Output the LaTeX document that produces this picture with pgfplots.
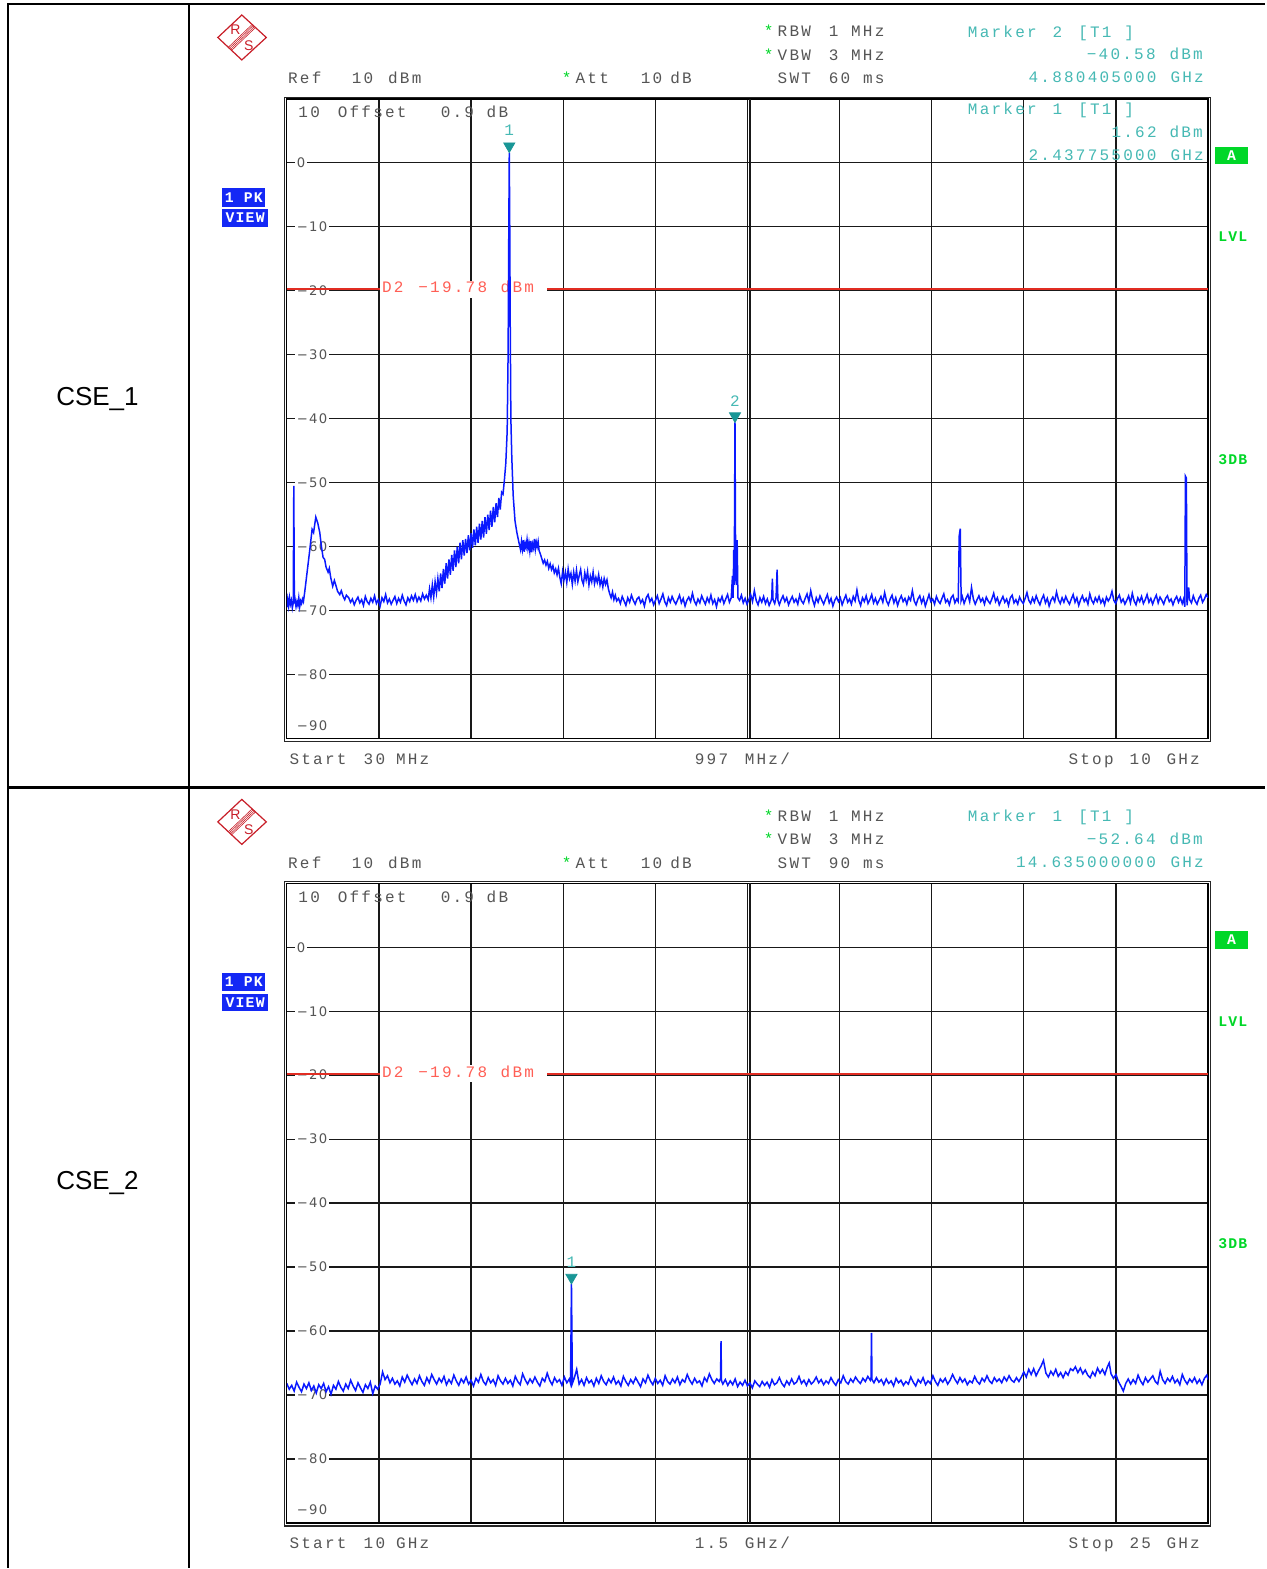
\documentclass[border=0pt]{standalone}
\usepackage{fontspec}
\usepackage{pgfplots}
\pgfplotsset{compat=1.18}
\setmainfont{Liberation Sans}
\newfontfamily\rsm[LetterSpace=14]{Liberation Mono}
\newfontfamily\rsmb[LetterSpace=8]{Liberation Mono}
\newfontfamily\tickfont[LetterSpace=10]{DejaVu Sans}
\definecolor{rsgray}{RGB}{85,85,85}
\definecolor{rsteal}{RGB}{70,185,180}
\definecolor{rsmark}{RGB}{25,150,150}
\definecolor{rsblue}{RGB}{10,25,255}
\definecolor{rsboxblue}{RGB}{20,40,245}
\definecolor{rsred}{RGB}{225,45,35}
\definecolor{rsredtxt}{RGB}{255,95,85}
\definecolor{rsgreen}{RGB}{0,215,40}
\definecolor{rslogo}{RGB}{200,30,40}
\tikzset{
  rs/.style={font=\rsm\fontsize{8}{9}\selectfont, text=rsgray, inner sep=0pt, anchor=base west},
  rt/.style={rs, text=rsteal},
  rr/.style={rs, text=rsredtxt},
  tl/.style={font=\tickfont\fontsize{6.6}{7}\selectfont, text=rsgray, inner xsep=1pt, inner ysep=0.6pt, fill=white, anchor=west},
  bx/.style={font=\rsmb\bfseries\fontsize{7.4}{8}\selectfont, text=white, inner sep=0pt},
}
\newcommand\ylabs[1]{%
  \node[tl] at (axis cs:#1,0) {0};
  \node[tl] at (axis cs:#1,-10) {−10};
  \node[tl] at (axis cs:#1,-20) {−20};
  \node[tl] at (axis cs:#1,-30) {−30};
  \node[tl] at (axis cs:#1,-40) {−40};
  \node[tl] at (axis cs:#1,-50) {−50};
  \node[tl] at (axis cs:#1,-60) {−60};
  \node[tl] at (axis cs:#1,-70) {−70};
  \node[tl] at (axis cs:#1,-80) {−80};
}
\newcommand\rscommon{%
  \draw[rslogo, line width=0.6pt] (218,37.5) -- (242,15) -- (266.5,37.5) -- (242,60) -- cycle;
  \foreach \d in {-1.6,-0.55,0.55,1.6} {\draw[rslogo, line width=0.3pt] (254+\d,26+\d) -- (230+\d,49+\d);}
  \node[text=rslogo, inner sep=0pt, font=\fontsize{7}{8}\selectfont] at (235.5,30) {R};
  \node[text=rslogo, inner sep=0pt, font=\fontsize{7}{8}\selectfont] at (249,45.5) {S};
  \node[fill=rsboxblue, minimum width=21.7pt, minimum height=9.2pt, inner sep=0pt] at (244,197.5) {};
  \node[bx] at (244,197.5) {1 PK};
  \node[fill=rsboxblue, minimum width=23pt, minimum height=8.7pt, inner sep=0pt] at (245.3,218) {};
  \node[bx] at (245.3,218) {VIEW};
  \node[rs] at (288,84) {Ref};
  \node[rs] at (351.8,84) {10};
  \node[rs] at (388,84) {dBm};
  \node[rs, text=rsgreen] at (561.9,84) {*};
  \node[rs] at (575.7,84) {Att};
  \node[rs] at (641,84) {10};
  \node[rs] at (670.4,84) {dB};
  \node[rs, text=rsgreen] at (764,37) {*};
  \node[rs] at (777.9,37) {RBW};
  \node[rs] at (829,37) {1};
  \node[rs] at (851.4,37) {MHz};
  \node[rs, text=rsgreen] at (764,60.5) {*};
  \node[rs] at (777.9,60.5) {VBW};
  \node[rs] at (829,60.5) {3};
  \node[rs] at (851.4,60.5) {MHz};
  \node[rs] at (777.9,84) {SWT};
  \node[rs] at (863.3,84) {ms};
  \node[rs] at (298.3,118) {10};
  \node[rs] at (337.7,118) {Offset};
  \node[rs] at (440.7,118) {0.9};
  \node[rs] at (486.7,118) {dB};
  \node[tl, fill=none] at (294.7,726) {−90};
  \draw[black!85, line width=0.7pt] (285,97.3) rectangle (1211.7,742.3);
  \node[fill=rsgreen, minimum width=16.6pt, minimum height=8.8pt, inner sep=0pt] at (1232.6,155.5) {};
  \node[bx] at (1232.6,155.5) {A};
  \node[bx, text=rsgreen] at (1233.8,237) {LVL};
  \node[bx, text=rsgreen] at (1233.8,459.5) {3DB};
  \node[rs] at (289.4,765) {Start};
  \node[rs] at (1069,765) {Stop};
}
\begin{document}
\begin{tikzpicture}
\begin{scope}[x=0.5pt,y=-0.5pt]
\useasboundingbox (0,0) rectangle (1266,1569);
\fill[white] (0,0) rectangle (1266,1569);
\end{scope}

% ---------------- panel 1 ----------------
\begin{axis}[
  at={(143.5pt,-369.5pt)}, anchor=south west,
  scale only axis, width=461pt, height=320pt,
  xmin=0.03, xmax=10, ymin=-90, ymax=10,
  xtick={0.03,1.027,2.024,3.021,4.018,5.015,6.012,7.009,8.006,9.003,10},
  ytick={-90,-80,-70,-60,-50,-40,-30,-20,-10,0,10},
  xticklabels={}, yticklabels={}, tick style={draw=none},
  grid=major, major grid style={black!90, line width=0.6pt},
  axis line style={black, line width=0.7pt},
]
\draw[black!90, line width=0.6pt] ([xshift=1.3pt]axis cs:5.015,-90) -- ([xshift=1.3pt]axis cs:5.015,10);
\ylabs{0.1133}
\draw[rsred, line width=0.9pt] (axis cs:0.03,-19.78) -- (axis cs:10,-19.78);
\fill[white] (axis cs:1.0357,-18.44) rectangle (axis cs:2.8415,-21.09);
\node[rr] at (axis cs:1.0573,-20.31) {D2};
\node[rr] at (axis cs:1.4498,-20.31) {−19.78};
\node[rr] at (axis cs:2.3408,-20.31) {dBm};
\addplot[rsblue, line width=0.75pt, mark=none] coordinates {
(0.030,-69.5) (0.040,-68.2) (0.050,-69.3) (0.060,-68.0) (0.070,-69.0) (0.080,-68.4) (0.090,-69.6) (0.100,-68.8) (0.106,-50.5) (0.112,-68.9) (0.120,-68.3) (0.130,-69.4) (0.140,-68.6) (0.150,-69.2) (0.160,-68.0) (0.170,-69.4) (0.180,-68.5) (0.190,-68.9) (0.200,-68.2) (0.210,-68.6) (0.225,-67.0) (0.250,-64.0) (0.279,-60.5) (0.304,-57.3) (0.320,-57.8) (0.344,-55.4) (0.365,-56.3) (0.387,-57.8) (0.405,-60.0) (0.423,-61.7) (0.440,-62.0) (0.455,-63.2) (0.477,-64.0) (0.490,-63.4) (0.505,-64.8) (0.527,-66.2) (0.545,-65.3) (0.560,-66.0) (0.580,-67.0) (0.603,-67.5) (0.620,-66.9) (0.640,-67.8) (0.657,-68.3) (0.675,-67.6)
(0.70,-68.0) (0.72,-68.7) (0.74,-68.2) (0.76,-69.1) (0.78,-68.4) (0.80,-67.9) (0.82,-68.8) (0.84,-68.3) (0.86,-69.2) (0.88,-67.8) (0.90,-68.6) (0.92,-69.0) (0.94,-68.1) (0.96,-68.7) (0.98,-67.7) (1.00,-68.9) (1.02,-68.3) (1.04,-69.3) (1.06,-68.0) (1.08,-68.6) (1.10,-67.5) (1.12,-68.8) (1.14,-68.2) (1.16,-69.0) (1.18,-68.4) (1.20,-67.8) (1.22,-68.9) (1.24,-68.1) (1.26,-68.7) (1.28,-67.6) (1.30,-68.5) (1.32,-69.1) (1.34,-68.0) (1.36,-68.6) (1.38,-67.7) (1.40,-68.4) (1.42,-67.5) (1.44,-68.6) (1.46,-67.9) (1.48,-68.5) (1.50,-67.4) (1.52,-68.2) (1.54,-67.6)
(1.56,-68.3) (1.575,-66.6) (1.59,-68.0) (1.605,-66.0) (1.62,-67.9) (1.635,-65.5) (1.65,-67.2) (1.665,-65.0) (1.68,-67.0) (1.695,-64.2) (1.71,-66.5) (1.725,-63.5) (1.74,-65.8) (1.755,-62.6) (1.77,-65.0) (1.785,-62.0) (1.80,-64.4) (1.815,-61.3) (1.83,-63.8) (1.845,-60.6) (1.86,-63.2) (1.875,-60.0) (1.89,-62.6) (1.905,-59.4) (1.92,-62.0) (1.935,-59.0) (1.95,-61.4) (1.965,-58.8) (1.98,-61.0) (1.995,-58.2) (2.01,-60.6) (2.025,-57.9) (2.04,-60.2) (2.055,-57.3) (2.07,-59.8) (2.085,-56.9) (2.10,-59.4) (2.115,-56.4) (2.13,-58.9) (2.145,-56.0) (2.16,-58.6) (2.175,-55.4) (2.19,-58.0) (2.205,-55.0) (2.22,-57.4) (2.235,-54.4) (2.25,-56.9) (2.265,-53.8) (2.28,-56.2) (2.295,-53.2) (2.31,-55.4) (2.325,-52.4) (2.34,-54.2) (2.355,-51.5) (2.37,-51.8) (2.385,-49.6) (2.40,-47.0)
(2.415,-42.0) (2.425,-30.0) (2.432,-12.0) (2.4378,1.62) (2.443,-10.0) (2.448,-25.0) (2.455,-40.0) (2.465,-46.0) (2.48,-52.0) (2.50,-56.0) (2.52,-57.8) (2.54,-59.2)
(2.56,-60.5) (2.57,-59.2) (2.58,-60.4) (2.59,-59.0) (2.60,-60.8) (2.61,-59.5) (2.62,-60.1) (2.63,-58.9) (2.64,-60.3) (2.65,-59.4) (2.66,-60.7) (2.67,-59.1) (2.68,-60.9) (2.69,-59.6) (2.70,-60.2) (2.71,-58.8) (2.72,-60.4) (2.73,-59.3) (2.74,-60.0) (2.75,-59.2) (2.76,-60.6)
(2.775,-61.2) (2.79,-61.9) (2.805,-62.6) (2.82,-62.1) (2.835,-62.9) (2.85,-62.3) (2.865,-63.4) (2.88,-62.7) (2.895,-63.6) (2.91,-63.0) (2.925,-64.1) (2.94,-63.5) (2.955,-64.4) (2.97,-63.4) (2.985,-64.8) (3.00,-65.8) (3.015,-63.9) (3.03,-65.2) (3.045,-64.0) (3.06,-65.6) (3.075,-63.5) (3.09,-65.0) (3.105,-64.2) (3.12,-65.9) (3.135,-64.0) (3.15,-65.4) (3.165,-63.7) (3.18,-65.5) (3.195,-64.5) (3.21,-63.6) (3.225,-65.3) (3.24,-65.9) (3.255,-64.1) (3.27,-65.2) (3.285,-63.9) (3.30,-66.0) (3.315,-64.6) (3.33,-65.5) (3.345,-64.0) (3.36,-65.8) (3.375,-64.8) (3.39,-65.6) (3.405,-64.4) (3.42,-66.0) (3.435,-65.1) (3.45,-66.3) (3.465,-65.0) (3.48,-65.9) (3.495,-65.2) (3.51,-66.6) (3.525,-67.4) (3.54,-68.0) (3.555,-67.1) (3.57,-68.3) (3.585,-67.6) (3.60,-68.5)
(3.62,-68.1) (3.64,-68.9) (3.66,-67.8) (3.68,-68.5) (3.70,-69.2) (3.72,-68.0) (3.74,-68.7) (3.76,-67.6) (3.78,-68.4) (3.80,-69.0) (3.82,-68.2) (3.84,-67.9) (3.86,-68.8) (3.88,-68.3) (3.90,-69.3) (3.92,-68.0) (3.94,-67.5) (3.96,-68.6) (3.98,-68.1) (4.00,-69.1) (4.02,-68.4) (4.04,-67.7) (4.06,-68.9) (4.08,-68.2) (4.10,-67.4) (4.12,-68.6) (4.14,-69.2) (4.16,-68.0) (4.18,-68.7) (4.20,-67.8) (4.22,-68.5) (4.24,-69.0) (4.26,-68.3) (4.28,-67.6) (4.30,-68.8) (4.32,-68.1) (4.34,-69.3) (4.36,-68.4) (4.38,-67.9) (4.40,-68.6) (4.42,-67.3) (4.44,-68.5) (4.46,-69.1) (4.48,-68.2) (4.50,-68.8) (4.52,-67.7) (4.54,-68.4) (4.56,-69.0) (4.58,-68.0) (4.60,-68.7) (4.62,-67.6) (4.64,-68.9) (4.66,-68.3) (4.68,-69.4) (4.70,-68.1) (4.72,-68.6) (4.74,-67.8) (4.76,-68.9) (4.78,-68.2) (4.80,-67.5) (4.82,-68.7) (4.84,-68.0)
(4.853,-64.6) (4.860,-68.0) (4.867,-60.5) (4.872,-66.0) (4.8804,-40.58) (4.888,-65.0) (4.896,-66.0) (4.904,-59.0) (4.912,-68.0)
(4.93,-68.4) (4.95,-67.6) (4.97,-68.8) (4.99,-68.1) (5.01,-69.0) (5.03,-68.3) (5.05,-67.5) (5.07,-68.6) (5.09,-66.9) (5.11,-68.4) (5.13,-69.1) (5.15,-68.0) (5.17,-68.7) (5.19,-67.8) (5.21,-68.9) (5.23,-68.2) (5.25,-69.2) (5.27,-68.5) (5.278,-68.0) (5.285,-65.0) (5.292,-68.3) (5.31,-68.9) (5.325,-68.0) (5.336,-63.6) (5.345,-68.4) (5.36,-69.1) (5.38,-68.3) (5.40,-67.7)
(5.42,-68.6) (5.44,-68.0) (5.46,-69.1) (5.48,-68.4) (5.50,-67.8) (5.52,-68.7) (5.54,-68.2) (5.56,-69.0) (5.58,-67.6) (5.60,-68.5) (5.62,-68.9) (5.64,-68.1) (5.66,-67.4) (5.68,-68.6) (5.70,-66.9) (5.72,-68.3) (5.74,-69.2) (5.76,-68.0) (5.78,-68.7) (5.80,-67.7) (5.82,-68.4) (5.84,-69.0) (5.86,-68.2) (5.88,-67.5) (5.90,-68.8) (5.92,-68.1) (5.94,-69.3) (5.96,-68.4) (5.98,-67.9) (6.00,-68.6) (6.02,-68.0) (6.04,-69.1) (6.06,-68.3) (6.08,-67.6) (6.10,-68.7) (6.12,-68.2) (6.14,-69.0) (6.16,-67.8) (6.18,-68.5) (6.20,-66.8) (6.22,-68.4) (6.24,-69.2) (6.26,-68.0) (6.28,-68.6) (6.30,-67.7) (6.32,-68.9) (6.34,-68.3) (6.36,-67.5) (6.38,-68.8) (6.40,-68.1) (6.42,-69.0) (6.44,-68.4) (6.46,-67.8) (6.48,-68.7) (6.50,-67.2) (6.52,-68.5) (6.54,-69.1) (6.56,-68.2) (6.58,-67.6) (6.60,-68.8) (6.62,-68.0) (6.64,-69.2) (6.66,-68.3) (6.68,-67.7) (6.70,-68.6) (6.72,-68.1) (6.74,-69.0) (6.76,-67.9) (6.78,-68.4) (6.80,-66.9) (6.82,-68.5) (6.84,-69.1) (6.86,-68.2) (6.88,-67.7) (6.90,-68.8) (6.92,-68.0) (6.94,-69.3) (6.96,-68.4) (6.98,-67.5) (7.00,-68.6) (7.02,-68.2) (7.04,-69.0) (7.06,-67.8) (7.08,-68.5) (7.10,-68.9) (7.12,-68.1) (7.14,-67.4) (7.16,-68.7) (7.18,-68.3) (7.20,-69.1) (7.22,-68.0) (7.24,-67.6) (7.26,-68.8) (7.28,-68.2)
(7.296,-68.6) (7.307,-58.3) (7.318,-57.2) (7.328,-68.4) (7.34,-67.8) (7.36,-68.9) (7.38,-68.1) (7.40,-67.5) (7.42,-68.6) (7.44,-66.4) (7.46,-68.2) (7.48,-69.0) (7.50,-68.3)
(7.52,-67.7) (7.54,-68.6) (7.56,-68.1) (7.58,-69.0) (7.60,-67.9) (7.62,-68.5) (7.64,-68.9) (7.66,-68.2) (7.68,-67.3) (7.70,-68.6) (7.72,-68.0) (7.74,-69.1) (7.76,-68.4) (7.78,-67.8) (7.80,-68.7) (7.82,-68.2) (7.84,-69.2) (7.86,-68.0) (7.88,-67.6) (7.90,-68.8) (7.92,-68.3) (7.94,-69.0) (7.96,-67.9) (7.98,-68.5) (8.00,-68.9) (8.02,-68.1) (8.04,-67.2) (8.06,-68.4) (8.08,-68.9) (8.10,-68.0) (8.12,-68.7) (8.14,-67.7) (8.16,-68.5) (8.18,-69.1) (8.20,-68.2) (8.22,-67.6) (8.24,-68.8) (8.26,-68.1) (8.28,-69.3) (8.30,-68.4) (8.32,-67.9) (8.34,-68.6) (8.36,-67.1) (8.38,-68.3) (8.40,-68.9) (8.42,-68.0) (8.44,-68.7) (8.46,-67.8) (8.48,-68.5) (8.50,-69.0) (8.52,-68.2) (8.54,-67.5) (8.56,-68.7) (8.58,-68.0) (8.60,-69.2) (8.62,-68.3) (8.64,-67.7) (8.66,-68.6) (8.68,-68.1) (8.70,-69.0) (8.72,-67.4) (8.74,-68.4) (8.76,-68.9) (8.78,-68.0) (8.80,-68.6) (8.82,-67.8) (8.84,-68.8) (8.86,-68.2) (8.88,-69.1) (8.90,-67.9) (8.92,-68.5) (8.94,-68.0) (8.96,-67.0) (8.98,-68.4) (9.00,-68.9) (9.02,-68.1) (9.04,-67.6) (9.06,-68.7) (9.08,-68.2) (9.10,-69.0) (9.12,-68.4) (9.14,-67.7) (9.16,-68.8) (9.18,-67.3) (9.20,-68.5) (9.22,-69.1) (9.24,-68.0) (9.26,-68.6) (9.28,-67.8) (9.30,-68.9) (9.32,-68.3) (9.34,-67.5) (9.36,-68.7) (9.38,-68.1) (9.40,-69.0) (9.42,-68.2) (9.44,-67.6) (9.46,-68.8) (9.48,-67.9) (9.50,-68.4) (9.52,-69.0) (9.54,-68.1) (9.56,-67.7) (9.58,-68.6) (9.60,-68.2) (9.62,-69.1) (9.64,-68.3) (9.66,-67.8) (9.68,-68.7) (9.70,-68.0) (9.72,-68.9) (9.735,-68.2)
(9.748,-69.4) (9.755,-49.0) (9.765,-49.3) (9.772,-69.2) (9.78,-68.0) (9.79,-66.4) (9.80,-68.3) (9.82,-68.8) (9.84,-67.7) (9.86,-68.5) (9.88,-69.0) (9.90,-68.1) (9.92,-67.6) (9.94,-68.7) (9.96,-68.2) (9.98,-67.5) (10.00,-68.0)
};
\addplot[only marks, mark=triangle*, mark size=3.2pt, mark options={yshift=3.2pt, rotate=180, fill=rsmark, draw=rsmark}] coordinates {(2.437755,1.62) (4.880405,-40.58)};
\node[rt, anchor=base] at (axis cs:2.437755,1.62) [yshift=8.3pt] {1};
\node[rt, anchor=base] at (axis cs:4.880405,-40.58) [yshift=7.9pt] {2};
\end{axis}

% ---------------- panel 2 ----------------
\begin{axis}[
  at={(143.5pt,-762pt)}, anchor=south west,
  scale only axis, width=461pt, height=320pt,
  xmin=10, xmax=25, ymin=-90, ymax=10,
  xtick={10,11.5,13,14.5,16,17.5,19,20.5,22,23.5,25},
  ytick={-90,-80,-70,-60,-50,-40,-30,-20,-10,0,10},
  xticklabels={}, yticklabels={}, tick style={draw=none},
  grid=major, major grid style={black!90, line width=0.6pt},
  axis line style={black, line width=0.7pt},
]
\draw[black!90, line width=0.6pt] ([xshift=1.3pt]axis cs:17.5,-90) -- ([xshift=1.3pt]axis cs:17.5,10);
\ylabs{10.125}
\draw[rsred, line width=0.9pt] (axis cs:10,-19.78) -- (axis cs:25,-19.78);
\fill[white] (axis cs:11.513,-18.44) rectangle (axis cs:14.230,-21.09);
\node[rr] at (axis cs:11.546,-20.31) {D2};
\node[rr] at (axis cs:12.136,-20.31) {−19.78};
\node[rr] at (axis cs:13.477,-20.31) {dBm};
\addplot[rsblue, line width=0.75pt, mark=none] coordinates {
(10.00,-68.2) (10.04,-69.1) (10.08,-68.5) (10.12,-69.4) (10.16,-68.0) (10.20,-68.8) (10.24,-69.5) (10.28,-68.3) (10.32,-69.0) (10.36,-68.1) (10.40,-69.3) (10.44,-68.6) (10.48,-69.7) (10.52,-68.4) (10.56,-69.0) (10.60,-68.2) (10.64,-69.5) (10.68,-68.7) (10.72,-69.9) (10.76,-68.5) (10.80,-69.1) (10.84,-67.9) (10.88,-68.8) (10.92,-69.4) (10.96,-68.3) (11.00,-69.0) (11.04,-67.7) (11.08,-68.6) (11.12,-69.3) (11.16,-68.1) (11.20,-68.9) (11.24,-69.6) (11.28,-68.4) (11.32,-69.0) (11.36,-68.0) (11.40,-69.8) (11.44,-68.6) (11.48,-69.1) (11.52,-68.3) (11.56,-66.4) (11.60,-67.6) (11.64,-67.0) (11.68,-68.1) (11.72,-67.4) (11.76,-68.3) (11.80,-67.8) (11.84,-68.6) (11.88,-67.2) (11.92,-68.0) (11.96,-66.9) (12.00,-67.7) (12.04,-68.4) (12.08,-67.5) (12.12,-68.2) (12.16,-67.0) (12.20,-67.9) (12.24,-68.5) (12.28,-67.3) (12.32,-68.1) (12.36,-66.8) (12.40,-67.6) (12.44,-68.3) (12.48,-67.4) (12.52,-68.0) (12.56,-67.1) (12.60,-68.4) (12.64,-67.6) (12.68,-68.2) (12.72,-66.9) (12.76,-67.8) (12.80,-68.5) (12.84,-67.5) (12.88,-68.1) (12.92,-67.2) (12.96,-68.3) (13.00,-67.7) (13.04,-68.6) (13.08,-67.4) (13.12,-68.0) (13.16,-66.8) (13.20,-67.9) (13.24,-68.4) (13.28,-67.3) (13.32,-68.1) (13.36,-67.6) (13.40,-68.5) (13.44,-67.0) (13.48,-67.8) (13.52,-68.3) (13.56,-67.4) (13.60,-68.2) (13.64,-67.7) (13.68,-68.6) (13.72,-67.1) (13.76,-67.9) (13.80,-68.4) (13.84,-66.7) (13.88,-67.6) (13.92,-68.3) (13.96,-67.5) (14.00,-68.1) (14.04,-67.2) (14.08,-68.0) (14.12,-68.6) (14.16,-67.4) (14.20,-67.9) (14.24,-66.6) (14.28,-67.7) (14.32,-68.4) (14.36,-67.3) (14.40,-68.0) (14.44,-67.6) (14.48,-68.5) (14.52,-67.2) (14.56,-68.1) (14.60,-67.5) (14.62,-68.2)
(14.628,-60.0) (14.635,-52.64) (14.642,-60.0) (14.65,-68.2) (14.68,-67.4) (14.72,-66.0) (14.76,-68.3) (14.80,-67.6) (14.84,-68.5) (14.88,-67.3) (14.92,-68.1) (14.96,-67.7) (15.00,-68.6) (15.04,-67.4) (15.08,-68.2) (15.12,-67.0) (15.16,-67.9) (15.20,-68.4) (15.24,-67.5) (15.28,-68.1) (15.32,-67.2) (15.36,-68.3) (15.40,-67.8) (15.44,-68.6) (15.48,-67.1) (15.52,-67.9) (15.56,-68.5) (15.60,-67.6) (15.64,-68.2) (15.68,-67.3) (15.72,-68.0) (15.76,-68.7) (15.80,-67.5) (15.84,-68.1) (15.88,-66.9) (15.92,-67.8) (15.96,-68.4) (16.00,-67.4) (16.04,-68.2) (16.08,-67.7) (16.12,-68.5) (16.16,-67.0) (16.20,-67.9) (16.24,-68.3) (16.28,-67.5) (16.32,-68.1) (16.36,-67.2) (16.40,-68.4) (16.44,-67.6) (16.48,-68.0) (16.52,-66.8) (16.56,-67.7) (16.60,-68.3) (16.64,-67.4) (16.68,-68.1) (16.72,-67.8) (16.76,-68.6) (16.80,-67.3) (16.84,-67.9) (16.88,-66.7) (16.92,-67.6) (16.96,-68.2) (17.00,-67.5) (17.04,-67.9)
(17.062,-67.4) (17.07,-61.6) (17.078,-67.8) (17.10,-68.3) (17.14,-67.6) (17.18,-68.5) (17.22,-67.8) (17.26,-68.4) (17.30,-67.5) (17.34,-68.7) (17.38,-68.0) (17.42,-68.5) (17.46,-67.7) (17.50,-68.6) (17.54,-68.1) (17.58,-68.9) (17.62,-67.8) (17.66,-68.3) (17.70,-68.7) (17.74,-67.9) (17.78,-68.5) (17.82,-68.0) (17.86,-68.8) (17.90,-67.6) (17.94,-68.4) (17.98,-68.1) (18.02,-67.3) (18.06,-68.2) (18.10,-68.7) (18.14,-67.8) (18.18,-68.4) (18.22,-67.5) (18.26,-68.3) (18.30,-68.0) (18.34,-67.1) (18.38,-68.2) (18.42,-67.7) (18.46,-68.5) (18.50,-67.6) (18.54,-68.3) (18.58,-67.9) (18.62,-67.2) (18.66,-68.1) (18.70,-67.6) (18.74,-68.4) (18.78,-67.8) (18.82,-68.2) (18.86,-67.3) (18.90,-68.0) (18.94,-68.5) (18.98,-67.6) (19.02,-68.1) (19.06,-67.0) (19.10,-67.9) (19.14,-68.3) (19.18,-67.5) (19.22,-68.0) (19.26,-67.2) (19.30,-67.8) (19.34,-68.2) (19.38,-67.4) (19.42,-67.9) (19.46,-67.1) (19.50,-67.7)
(19.512,-67.3) (19.52,-60.3) (19.528,-67.6) (19.56,-68.1) (19.60,-67.3) (19.64,-68.0) (19.68,-67.6) (19.72,-68.4) (19.76,-67.5) (19.80,-68.2) (19.84,-67.8) (19.88,-68.6) (19.92,-67.4) (19.96,-68.1) (20.00,-67.7) (20.04,-68.5) (20.08,-67.9) (20.12,-68.3) (20.16,-67.2) (20.20,-68.0) (20.24,-68.6) (20.28,-67.6) (20.32,-68.1) (20.36,-67.3) (20.40,-68.4) (20.44,-67.8) (20.48,-68.2) (20.52,-67.0) (20.56,-67.9) (20.60,-68.5) (20.64,-67.5) (20.68,-68.0) (20.72,-67.4) (20.76,-68.3) (20.80,-67.7) (20.84,-66.8) (20.88,-67.6) (20.92,-68.2) (20.96,-67.3) (21.00,-68.0) (21.04,-67.5) (21.08,-68.4) (21.12,-67.8) (21.16,-68.1) (21.20,-67.1) (21.24,-67.9) (21.28,-68.3) (21.32,-67.4) (21.36,-67.9) (21.40,-67.0) (21.44,-67.8) (21.48,-68.2) (21.52,-67.3) (21.56,-67.9) (21.60,-67.5) (21.64,-68.1) (21.68,-67.2) (21.72,-67.8) (21.76,-67.0) (21.80,-67.7) (21.84,-68.0) (21.88,-67.3) (21.92,-67.9) (21.96,-67.2)
(22.00,-66.4) (22.04,-67.2) (22.08,-66.0) (22.12,-66.8) (22.16,-65.9) (22.20,-67.0) (22.24,-66.2) (22.28,-65.5) (22.32,-64.6) (22.36,-66.6) (22.40,-67.2) (22.44,-66.3) (22.48,-66.9) (22.52,-66.0) (22.56,-67.1) (22.60,-66.5) (22.64,-67.3) (22.68,-66.4) (22.72,-66.9) (22.76,-65.9) (22.80,-66.2) (22.84,-65.6) (22.88,-66.5) (22.92,-65.8) (22.96,-66.7) (23.00,-66.1) (23.04,-66.9) (23.08,-67.3) (23.12,-66.4) (23.16,-67.0) (23.20,-65.8) (23.24,-66.6) (23.28,-66.0) (23.32,-66.8) (23.36,-65.6) (23.39,-65.0) (23.42,-66.7) (23.46,-67.4) (23.50,-66.8) (23.54,-67.9) (23.58,-68.6) (23.62,-69.4) (23.66,-68.2) (23.70,-67.5) (23.74,-68.3) (23.78,-67.6) (23.82,-68.2) (23.86,-66.9) (23.90,-67.8) (23.94,-68.4) (23.98,-67.3) (24.02,-68.0) (24.06,-67.5) (24.10,-67.0) (24.14,-67.9) (24.18,-68.3) (24.22,-66.3) (24.26,-67.6) (24.30,-68.2) (24.34,-67.4) (24.38,-67.9) (24.42,-67.1) (24.46,-68.1) (24.50,-67.6) (24.54,-68.4) (24.58,-66.8) (24.62,-67.7) (24.66,-68.3) (24.70,-67.5) (24.74,-68.0) (24.78,-67.3) (24.82,-68.2) (24.86,-67.6) (24.90,-68.4) (24.94,-67.4) (24.98,-66.9) (25.00,-67.6)
};
\addplot[only marks, mark=triangle*, mark size=3.2pt, mark options={yshift=3.2pt, rotate=180, fill=rsmark, draw=rsmark}] coordinates {(14.635,-52.64)};
\node[rt, anchor=base] at (axis cs:14.635,-52.64) [yshift=8pt] {1};
\end{axis}

\begin{scope}[x=0.5pt,y=-0.5pt]
\draw[line width=1.2pt] (8,1569) -- (8,4) -- (1266,4);
\draw[line width=1.2pt] (189,4) -- (189,1569);
\draw[line width=1.2pt] (8,788) -- (1266,788);
\node[font=\fontsize{13}{15}\selectfont] at (97.5,399) {CSE\_1};
\node[font=\fontsize{13}{15}\selectfont] at (97.5,1184) {CSE\_2};
\rscommon
\node[rs] at (829,84) {60};
\node[rt] at (968.3,37.3) {Marker};
\node[rt] at (1053,37.3) {2};
\node[rt] at (1078.7,37.3) {[T1};
\node[rt] at (1124.9,37.3) {]};
\node[rt] at (1087.3,60) {−40.58};
\node[rt] at (1170,60) {dBm};
\node[rt] at (1029,83) {4.880405000};
\node[rt] at (1171,83) {GHz};
\node[rt] at (968.3,115) {Marker};
\node[rt] at (1053,115) {1};
\node[rt] at (1078.7,115) {[T1};
\node[rt] at (1124.9,115) {]};
\node[rt] at (1112,138) {1.62};
\node[rt] at (1170,138) {dBm};
\node[rt] at (1029,160.7) {2.437755000};
\node[rt] at (1171,160.7) {GHz};
\node[rs] at (363.6,765) {30};
\node[rs] at (396,765) {MHz};
\node[rs] at (695,765) {997};
\node[rs] at (745,765) {MHz/};
\node[rs] at (1130,765) {10};
\node[rs] at (1167,765) {GHz};
\end{scope}
\begin{scope}[x=0.5pt,y=-0.5pt,shift={(0,785)}]
\rscommon
\node[rs] at (829,84) {90};
\node[rt] at (968.3,37.3) {Marker};
\node[rt] at (1053,37.3) {1};
\node[rt] at (1078.7,37.3) {[T1};
\node[rt] at (1124.9,37.3) {]};
\node[rt] at (1087.3,60) {−52.64};
\node[rt] at (1170,60) {dBm};
\node[rt] at (1016.5,83) {14.635000000};
\node[rt] at (1171,83) {GHz};
\node[rs] at (363.6,765) {10};
\node[rs] at (396,765) {GHz};
\node[rs] at (695,765) {1.5};
\node[rs] at (745,765) {GHz/};
\node[rs] at (1130,765) {25};
\node[rs] at (1167,765) {GHz};
\end{scope}
\end{tikzpicture}
\end{document}
